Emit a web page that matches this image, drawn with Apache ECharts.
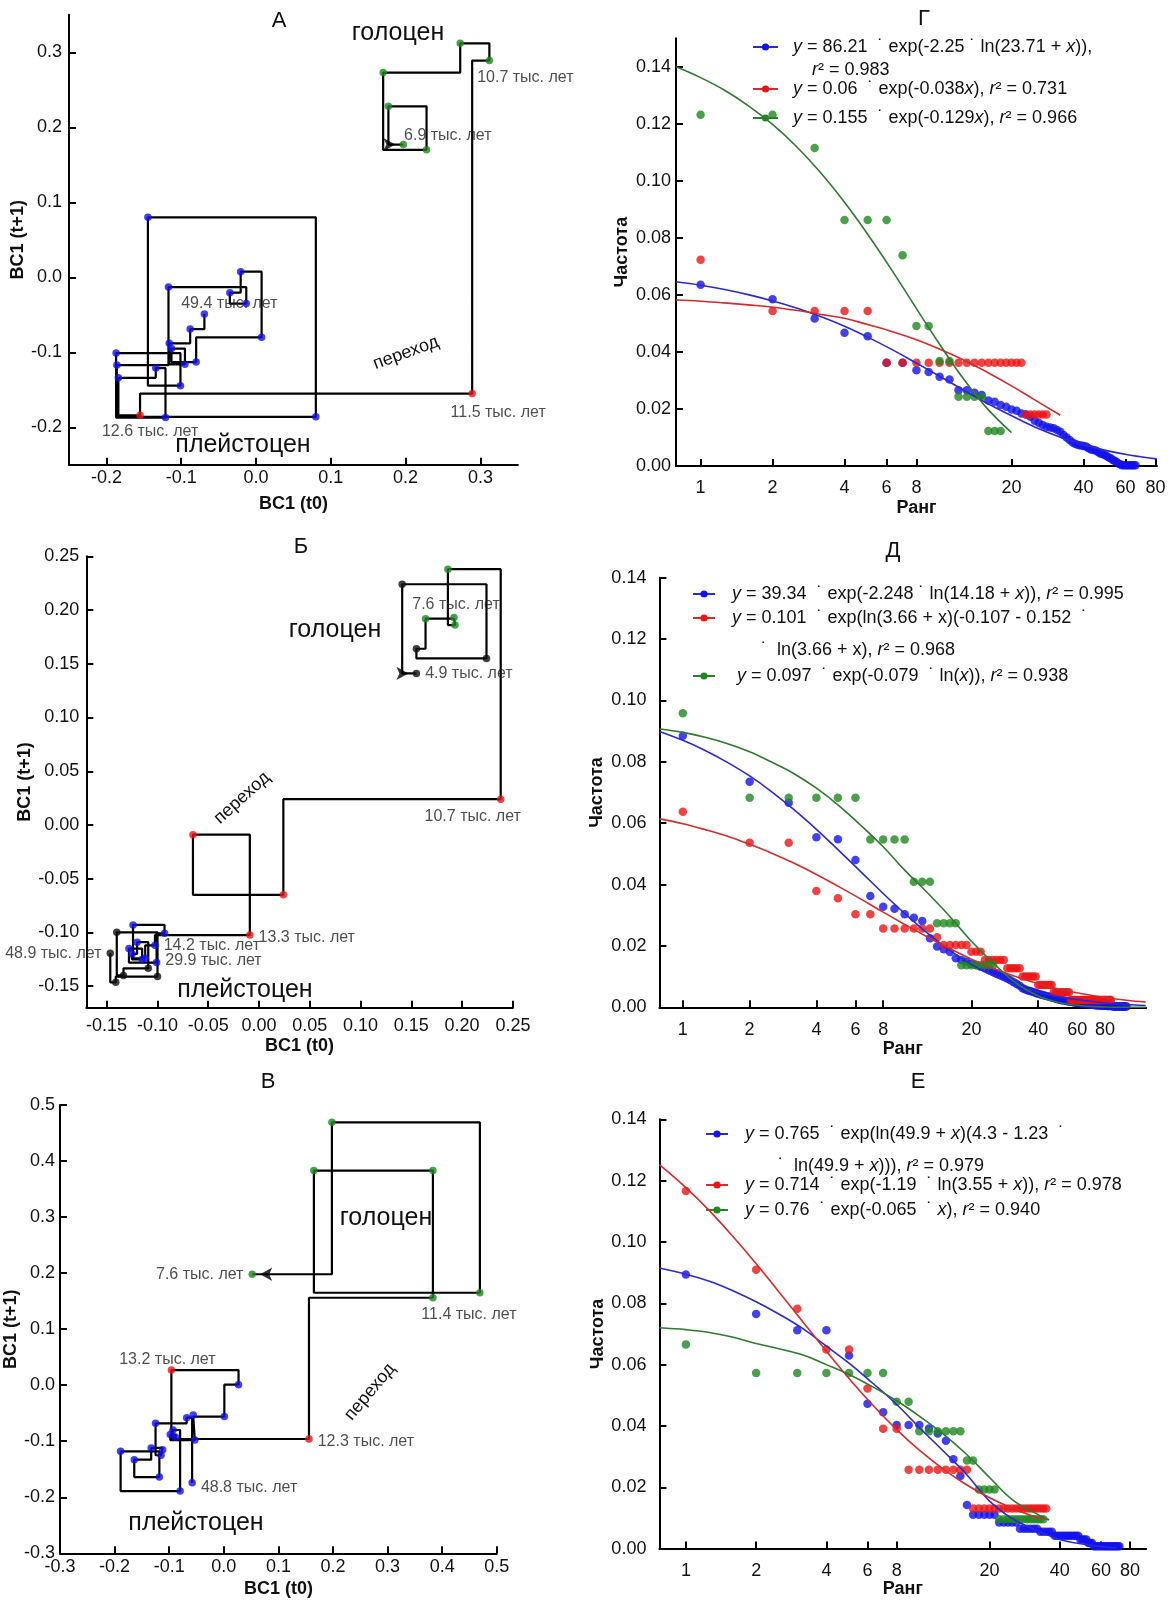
<!DOCTYPE html>
<html><head><meta charset="utf-8">
<script src="https://cdn.jsdelivr.net/npm/echarts@6/dist/echarts.min.js"></script>
<style>html,body{margin:0;padding:0;background:#fff}#c{width:1173px;height:1600px}</style>
</head><body><div id="c"></div>
<script>
// ===================== DATA =====================
// Return maps: BC1 time series (young -> old); points are (BC1(t0), BC1(t+1)) = (s[i], s[i+1])
const bc1A = [0.197, 0.177, 0.228, 0.170, 0.273, 0.312, 0.289, -0.155, -0.184, -0.134, -0.121, -0.187, -0.101, -0.1445, 0.080, -0.186, -0.117, -0.013, -0.035, -0.0205, 0.0075, -0.080, -0.113, -0.095, -0.116, -0.088, -0.069, -0.049];
const periodA = ['h','h','h','h','h','h','t','t','p','p','p','p','p','p','p','p','p','p','p','p','p','p','p','p','p','p','p'];
const labelsA = {0:'6.9 тыс. лет', 5:'10.7 тыс. лет', 6:'11.5 тыс. лет', 7:'12.6 тыс. лет', 26:'49.4 тыс. лет'};

const bc1B = [0.155, 0.141, 0.224, 0.155, 0.164, 0.192, 0.193, 0.186, 0.238, 0.024, -0.065, -0.009, -0.1024, -0.112, -0.124, -0.093, -0.1008, -0.128, -0.115, -0.125, -0.120, -0.109, -0.1334, -0.140, -0.0999, -0.141, -0.1464, -0.1194];
const periodB = ['k','k','k','k','h','h','h','h','t','t','t','t','p','p','p','p','p','p','p','p','p','k','k','k','k','k','k'];
const labelsB = {0:'4.9 тыс. лет', 5:'7.6 тыс. лет', 8:'10.7 тыс. лет', 11:'13.3 тыс. лет', 12:'14.2 тыс. лет', 16:'29.9 тыс. лет', 26:'48.9 тыс. лет'};

const bc1V = [0.052, 0.198, 0.469, 0.165, 0.383, 0.383, 0.156, -0.096, 0.027, 0.001, -0.056, -0.053, -0.098, -0.088, -0.093, -0.080, -0.189, -0.118, -0.164, -0.133, -0.112, -0.115, -0.125, -0.068, -0.058, -0.174];
const periodV = ['h','h','h','h','h','h','t','t','p','p','p','p','p','p','p','p','p','p','p','p','p','p','p','p','p'];
const labelsV = {0:'7.6 тыс. лет', 5:'11.4 тыс. лет', 6:'12.3 тыс. лет', 7:'13.2 тыс. лет', 24:'48.8 тыс. лет'};

const tickA = [-0.2, -0.1, 0, 0.1, 0.2, 0.3];
const tickB = [-0.15, -0.10, -0.05, 0, 0.05, 0.10, 0.15, 0.20, 0.25];
const tickV = [-0.3, -0.2, -0.1, 0, 0.1, 0.2, 0.3, 0.4, 0.5];
const rankTicks = [1, 2, 4, 6, 8, 20, 40, 60, 80];
const freqTicks = [0, 0.02, 0.04, 0.06, 0.08, 0.10, 0.12, 0.14];

// Rank-frequency (rank = index + 1)
const freqG_blue = [0.0636,0.0585,0.0517,0.0467,0.0455,0.0362,0.0362,0.0336,0.0330,0.0313,0.0303,0.0266,0.0266,0.0257,0.0249,0.0230,0.0225,0.0214,0.0208,0.0198,0.0194,0.0184,0.0181,0.0173,0.0159,0.0152,0.0144,0.0138,0.0135,0.0132,0.0126,0.0120,0.0109,0.0100,0.0091,0.0082,0.0077,0.0074,0.0072,0.0070,0.0068,0.0062,0.0058,0.0056,0.0054,0.0049,0.0044,0.0042,0.0039,0.0035,0.0030,0.0027,0.0021,0.0018,0.0014,0.0009,0.0006,0.0003,0.0003,0.0003,0.0003,0.0003,0.0003,0.0003,0.0003,0.0003];
const freqG_red = [0.0723,0.0544,0.0544,0.0544,0.0544,0.0362,0.0362,0.0362,0.0362,0.0362,0.0362,0.0362,0.0362,0.0362,0.0362,0.0362,0.0362,0.0362,0.0362,0.0362,0.0362,0.0362,0.0181,0.0181,0.0181,0.0181,0.0181,0.0181];
const freqG_green = [0.1232,0.1232,0.1115,0.0863,0.0863,0.0863,0.0739,0.0491,0.0491,0.0368,0.0368,0.0243,0.0243,0.0243,0.0243,0.0123,0.0123,0.0123];

const freqD_blue = [0.0885,0.0735,0.0667,0.0554,0.0548,0.0480,0.0363,0.0328,0.0321,0.0303,0.0292,0.0281,0.0225,0.0198,0.0189,0.0180,0.0160,0.0154,0.0149,0.0142,0.0138,0.0132,0.0127,0.0121,0.0116,0.0110,0.0105,0.0100,0.0094,0.0088,0.0082,0.0076,0.0070,0.0062,0.0058,0.0055,0.0052,0.0050,0.0047,0.0044,0.0042,0.0040,0.0038,0.0036,0.0034,0.0032,0.0030,0.0028,0.0026,0.0025,0.0023,0.0022,0.0021,0.0020,0.0019,0.0018,0.0017,0.0016,0.0015,0.0014,0.0013,0.0012,0.0012,0.0011,0.0011,0.0010,0.0010,0.0009,0.0009,0.0008,0.0008,0.0007,0.0007,0.0007,0.0006,0.0006,0.0006,0.0005,0.0005,0.0005,0.0005,0.0004,0.0004,0.0004,0.0004,0.0004,0.0003,0.0003,0.0003,0.0003,0.0003,0.0003,0.0003,0.0003,0.0003,0.0003,0.0003,0.0003,0.0003,0.0003];
const freqD_red = [0.0637,0.0536,0.0536,0.0379,0.0355,0.0303,0.0303,0.0257,0.0257,0.0257,0.0257,0.0257,0.0257,0.0228,0.0203,0.0203,0.0203,0.0203,0.0203,0.0181,0.0181,0.0181,0.0154,0.0154,0.0154,0.0154,0.0154,0.0154,0.0127,0.0127,0.0127,0.0127,0.0127,0.0100,0.0100,0.0100,0.0100,0.0100,0.0100,0.0073,0.0073,0.0073,0.0073,0.0073,0.0073,0.0073,0.0049,0.0049,0.0049,0.0049,0.0049,0.0049,0.0049,0.0049,0.0049,0.0024,0.0024,0.0024,0.0024,0.0024,0.0024,0.0024,0.0024,0.0024,0.0024,0.0024,0.0024,0.0024,0.0024,0.0024,0.0024,0.0024,0.0024,0.0024,0.0024,0.0024,0.0024,0.0024,0.0024,0.0024,0.0024,0.0024,0.0024,0.0024,0.0024];
const freqD_green = [0.0958,0.0683,0.0683,0.0683,0.0683,0.0683,0.0547,0.0547,0.0547,0.0547,0.0409,0.0409,0.0409,0.0274,0.0274,0.0274,0.0274,0.0137,0.0137,0.0137,0.0137,0.0137,0.0137,0.0137,0.0137];

const freqE_blue = [0.0894,0.0765,0.0712,0.0712,0.0630,0.0472,0.0445,0.0403,0.0403,0.0403,0.0392,0.0375,0.0352,0.0291,0.0237,0.0142,0.0110,0.0110,0.0110,0.0110,0.0110,0.0085,0.0085,0.0085,0.0085,0.0085,0.0065,0.0065,0.0065,0.0065,0.0065,0.0065,0.0055,0.0055,0.0055,0.0055,0.0055,0.0042,0.0042,0.0042,0.0042,0.0042,0.0042,0.0042,0.0042,0.0042,0.0042,0.0042,0.0030,0.0030,0.0030,0.0030,0.0018,0.0018,0.0018,0.0008,0.0008,0.0008,0.0008,0.0008,0.0008,0.0008,0.0008,0.0008,0.0008,0.0008,0.0008,0.0008,0.0008,0.0008,0.0008,0.0008];
const freqE_red = [0.1166,0.0909,0.0782,0.0649,0.0649,0.0522,0.0391,0.0391,0.0257,0.0257,0.0257,0.0257,0.0257,0.0257,0.0257,0.0257,0.0131,0.0131,0.0131,0.0131,0.0131,0.0131,0.0131,0.0131,0.0131,0.0131,0.0131,0.0131,0.0131,0.0131,0.0131,0.0131,0.0131,0.0131,0.0131];
const freqE_green = [0.0666,0.0573,0.0573,0.0573,0.0573,0.0573,0.0573,0.0479,0.0479,0.0383,0.0383,0.0383,0.0383,0.0383,0.0383,0.0287,0.0287,0.0193,0.0193,0.0193,0.0193,0.0096,0.0096,0.0096,0.0096,0.0096,0.0096,0.0096,0.0096,0.0096,0.0096,0.0096,0.0096,0.0096];

// Fitted curves (x = rank, y = frequency)
const curveG_blue_x = [0.79,1,1.26,1.58,2,2.5,3.16,4,5,6.3,8,10,12.6,15.8,20,25,31.6,40,50,63,81];
const curveG_blue_y = [0.0646,0.0634,0.0619,0.0601,0.0579,0.0555,0.0525,0.0490,0.0452,0.0409,0.0361,0.0315,0.0266,0.0220,0.0176,0.0137,0.0103,0.0075,0.0054,0.0038,0.0025];
const curveG_red_x = [0.79,1,1.26,1.58,2,2.5,3.16,4,5,6.3,8,10,12.6,15.8,20,25,32];
const curveG_red_y = [0.0582,0.0578,0.0572,0.0565,0.0557,0.0546,0.0532,0.0518,0.0496,0.0472,0.0443,0.0410,0.0372,0.0329,0.0281,0.0232,0.0178];
const curveG_green_x = [0.79,1,1.26,1.58,2,2.5,3.16,4,5,6.3,8,10,12.6,15.8,20];
const curveG_green_y = [0.1400,0.1362,0.1318,0.1264,0.1198,0.1123,0.1031,0.0925,0.0813,0.0688,0.0552,0.0427,0.0305,0.0202,0.0117];

const curveD_x = [0.785,1,1.26,1.58,2,2.5,3.16,4,5,6.3,8,10,12.6,15.8,20,25,31.6,40,50,63,80,100,122];
const curveD_blue_y = [0.0899,0.0870,0.0837,0.0799,0.0754,0.0704,0.0645,0.0580,0.0514,0.0444,0.0371,0.0306,0.0243,0.0188,0.0140,0.0103,0.0073,0.0050,0.0034,0.0023,0.0014,0.0009,0.0006];
const curveD_red_y = [0.0614,0.0598,0.0579,0.0558,0.0531,0.0503,0.0470,0.0433,0.0395,0.0354,0.0310,0.0270,0.0230,0.0193,0.0157,0.0127,0.0100,0.0077,0.0059,0.0044,0.0032,0.0023,0.0017];
const curveD_green_y = [0.0907,0.0896,0.0880,0.0860,0.0833,0.0800,0.0762,0.0714,0.0660,0.0595,0.0523,0.0447,0.0375,0.0300,0.0215,0.0145,0.0080,0.0037,0.0015,0.0005,0.0001,0.0000,0.0000];

const curveE_blue_x = [0.77,1,1.26,1.58,2,2.5,3.16,4,5,6.3,8,10,12.6,15.8,20,25,31.6,40,50,63,70];
const curveE_blue_y = [0.0915,0.0895,0.0872,0.0842,0.0805,0.0765,0.0718,0.0660,0.0605,0.0540,0.0470,0.0395,0.0320,0.0245,0.0155,0.0098,0.0060,0.0030,0.0015,0.0005,0.0003];
const curveE_rg_x = [0.77,1,1.26,1.58,2,2.5,3.16,4,5,6.3,8,10,12.6,15.8,20,25,31.6,36];
const curveE_red_y = [0.1252,0.1177,0.1102,0.1020,0.0929,0.0838,0.0741,0.0644,0.0555,0.0469,0.0388,0.0321,0.0261,0.0210,0.0166,0.0132,0.0103,0.0095];
const curveE_green_y = [0.0720,0.0714,0.0705,0.0690,0.0669,0.0652,0.0632,0.0600,0.0568,0.0528,0.0482,0.0432,0.0375,0.0310,0.0232,0.0160,0.0115,0.0093];

// ===================== STYLE / LAYOUT =====================
const FONT = '"Liberation Sans", Arial, Helvetica, sans-serif';
const PT = {p:'#1212ee', t:'#ee1414', h:'#1e8a1e', k:'#111111'};
const LN = {b:'#2a2ad0', r:'#d42c2c', g:'#2e7a2e'};
const labelPos = {
  0: {0:['right',[-8,-9]], 5:['bottom',[36,0]], 6:['bottom',[26,2]], 7:['bottom',[10,0]], 26:['top',[25,6]]},
  1: {0:['right',[0,0]], 5:['top',[2,4]], 8:['bottom',[-28,1]], 11:['right',[0,3]], 12:['right',[0,0]], 16:['right',[0,-2]], 26:['left',[0,0]]},
  2: {0:['left',[0,0]], 5:['bottom',[36,0]], 6:['right',[0,3]], 7:['top',[-4,6]], 24:['right',[0,5]]}
};
const grids = [
  {left:69, top:14.8, width:448.8, height:450},
  {left:86.3, top:556.3, width:426.6, height:451.4},
  {left:60, top:1105, width:436.8, height:448.3},
  {left:676, top:38.3, width:481, height:427.7},
  {left:659.4, top:577.7, width:486.8, height:429.6},
  {left:659.4, top:1119.3, width:486.8, height:429.3}
].map(g => Object.assign({outerBoundsMode:'none', containLabel:false}, g));

function fmt(v, d) { return (Math.abs(v) < 1e-9 ? 0 : v).toFixed(d); }
const axLine = {onZero:false, lineStyle:{color:'#000', width:2}};
const nameStyle = {fontWeight:'bold', fontSize:18, color:'#111', fontFamily:FONT};
function valAxis(gi, min, max, ticks, dec, margin, name, gap) {
  return {
    gridIndex: gi, type:'value', min, max,
    axisLine: axLine,
    axisTick: {inside:true, length:7, lineStyle:{color:'#000', width:2}, customValues: ticks},
    axisLabel: {customValues: ticks, formatter: v => fmt(v, dec), fontSize:18, color:'#111', fontFamily:FONT, margin},
    splitLine: {show:false},
    name, nameLocation:'middle', nameGap: gap, nameTextStyle: nameStyle
  };
}
function logAxis(gi, min, max, margin, gap) {
  return {
    gridIndex: gi, type:'log', logBase:10, min, max,
    axisLine: axLine,
    axisTick: {inside:true, length:7, lineStyle:{color:'#000', width:2}, customValues: rankTicks},
    axisLabel: {customValues: rankTicks, formatter: v => String(Math.round(v)), fontSize:18, color:'#111', fontFamily:FONT, margin},
    splitLine: {show:false}, minorTick:{show:false},
    name:'Ранг', nameLocation:'middle', nameGap: gap, nameTextStyle: nameStyle
  };
}

const xAxes = [
  valAxis(0,-0.25,0.35,tickA,1,4,'BC1 (t0)',30),
  valAxis(1,-0.17,0.25,tickB,2,9,'BC1 (t0)',29),
  valAxis(2,-0.3,0.5,tickV,1,5,'BC1 (t0)',27),
  logAxis(3,0.789,81.2,13,33),
  logAxis(4,0.784,122.7,14,28),
  logAxis(5,0.77,93.8,13,27)
];
const yAxes = [
  valAxis(0,-0.25,0.35,tickA,1,7,'BC1 (t+1)',37),
  valAxis(1,-0.17,0.25,tickB,2,7,'BC1 (t+1)',49),
  valAxis(2,-0.3,0.5,tickV,1,5,'BC1 (t+1)',34),
  valAxis(3,0,0.15,freqTicks,2,5,'Частота',45),
  valAxis(4,0,0.14,freqTicks,2,13,'Частота',53),
  valAxis(5,0,0.14,freqTicks,2,13,'Частота',51)
];

const series = [];
function addReturnMap(gi, s, period, labels) {
  const pts = s.slice(0, -1).map((v, i) => [v, s[i + 1]]);
  series.push({type:'line', xAxisIndex:gi, yAxisIndex:gi, data:pts, step:'end', symbol:'none',
    lineStyle:{color:'#000', width:2.2}, z:2, silent:true});
  series.push({type:'scatter', xAxisIndex:gi, yAxisIndex:gi, symbolSize:7.5, z:3, silent:true,
    data: pts.map((p, i) => {
      const item = {value:p, itemStyle:{color:PT[period[i]]}};
      if (labels[i]) {
        const lp = labelPos[gi][i];
        item.label = {show:true, formatter:labels[i], position:lp[0], offset:lp[1], fontSize:16, color:'#222', fontFamily:FONT};
      }
      return item;
    })});
  const dir = s[0] > s[1] ? 1 : -1;
  series.push({type:'scatter', xAxisIndex:gi, yAxisIndex:gi, data:[[s[0], s[1]]], symbol:'arrow',
    symbolSize:[10,12], symbolRotate: dir > 0 ? -90 : 90, symbolOffset:[-dir * 8, 0],
    itemStyle:{color:'#000'}, z:4, silent:true});
}
addReturnMap(0, bc1A, periodA, labelsA);
addReturnMap(1, bc1B, periodB, labelsB);
addReturnMap(2, bc1V, periodV, labelsV);

function addRank(gi, key, sets) {
  ['b','r','g'].forEach(c => {
    series.push({type:'scatter', xAxisIndex:gi, yAxisIndex:gi, symbolSize:8.5, z:3, silent:true,
      itemStyle:{color: c==='b'?PT.p : c==='r'?PT.t : PT.h},
      data: sets[c][0].map((v, i) => [i + 1, v])});
  });
  ['b','r','g'].forEach(c => {
    const cx = sets[c][1], cy = sets[c][2];
    series.push({type:'line', name:key + c, xAxisIndex:gi, yAxisIndex:gi, smooth:0.4,
      symbol:'circle', symbolSize:7, showSymbol:false, z:4, silent:true,
      lineStyle:{color:LN[c], width:1.6},
      itemStyle:{color: c==='b'?PT.p : c==='r'?PT.t : PT.h},
      data: cx.map((x, i) => [x, cy[i]])});
  });
}
addRank(3, 'G', {b:[freqG_blue, curveG_blue_x, curveG_blue_y], r:[freqG_red, curveG_red_x, curveG_red_y], g:[freqG_green, curveG_green_x, curveG_green_y]});
addRank(4, 'D', {b:[freqD_blue, curveD_x, curveD_blue_y], r:[freqD_red, curveD_x, curveD_red_y], g:[freqD_green, curveD_x, curveD_green_y]});
addRank(5, 'E', {b:[freqE_blue, curveE_blue_x, curveE_blue_y], r:[freqE_red, curveE_rg_x, curveE_red_y], g:[freqE_green, curveE_rg_x, curveE_green_y]});

const RICH = {
  i:{fontStyle:'italic', fontSize:18, fontFamily:FONT, color:'#111'},
  w10:{width:10, fontSize:18}, w12:{width:12, fontSize:18}
};
function leg(name, left, top, iw, text) {
  return {data:[name], left, top, orient:'horizontal', padding:0, itemGap:0, itemWidth:iw, itemHeight:9,
    selectedMode:false, formatter: () => text,
    textStyle:{fontSize:18, color:'#111', fontFamily:FONT, lineHeight:20, rich:RICH}};
}
const legends = [
  leg('Gb', 752, 37, 25, '{w10| }{i|y} = 86.21  ˙ exp(-2.25 ˙ ln(23.71 + {i|x})),'),
  leg('Gr', 752, 79, 25, '{w10| }{i|y} = 0.06  ˙ exp(-0.038{i|x}), {i|r}² = 0.731'),
  leg('Gg', 752, 108, 25, '{w10| }{i|y} = 0.155  ˙ exp(-0.129{i|x}), {i|r}² = 0.966'),
  leg('Db', 692, 584, 22, '{w12| }{i|y} = 39.34  ˙ exp(-2.248 ˙ ln(14.18 + {i|x})), {i|r}² = 0.995'),
  leg('Dr', 692, 608, 22, '{w12| }{i|y} = 0.101  ˙ exp(ln(3.66 + x)(-0.107 - 0.152  ˙'),
  leg('Dg', 692, 666, 22, '{w12| } {i|y} = 0.097  ˙ exp(-0.079  ˙ ln({i|x})), {i|r}² = 0.938'),
  leg('Eb', 705, 1124, 22, '{w12| }{i|y} = 0.765  ˙ exp(ln(49.9 + {i|x})(4.3 - 1.23  ˙'),
  leg('Er', 705, 1175, 22, '{w12| }{i|y} = 0.714  ˙ exp(-1.19  ˙ ln(3.55 + {i|x})), {i|r}² = 0.978'),
  leg('Eg', 705, 1200, 22, '{w12| }{i|y} = 0.76  ˙ exp(-0.065  ˙ {i|x}), {i|r}² = 0.940')
];

function txt(x, y, text, size, rot, align) {
  return {type:'text', x, y, rotation: (rot || 0) * Math.PI / 180, silent:true,
    style:{text, fill:'#111', font: size + 'px ' + FONT, fontSize:size, fontFamily:FONT,
      align: align || 'center', verticalAlign:'middle', textAlign: align || 'center', textVerticalAlign:'middle', rich:RICH}};
}
const graphics = [
  txt(279, 21, 'А', 22), txt(301, 547, 'Б', 22), txt(268, 1082, 'В', 22),
  txt(924, 19, 'Г', 22), txt(893, 551, 'Д', 22), txt(918, 1082, 'Е', 22),
  txt(398, 33, 'голоцен', 25), txt(243, 445, 'плейстоцен', 25), txt(406, 353, 'переход', 18, 20),
  txt(335, 630, 'голоцен', 25), txt(245, 990, 'плейстоцен', 25), txt(242, 798, 'переход', 18, 42),
  txt(386, 1218, 'голоцен', 25), txt(196, 1523, 'плейстоцен', 25), txt(370, 1392, 'переход', 18, 50),
  txt(812, 70, '{i|r}² = 0.983', 18, 0, 'left'),
  txt(761, 650, '˙  ln(3.66 + x), {i|r}² = 0.968', 18, 0, 'left'),
  txt(778, 1166, '˙  ln(49.9 + {i|x}))), {i|r}² = 0.979', 18, 0, 'left')
];

const chart = echarts.init(document.getElementById('c'), null, {renderer:'canvas'});
chart.setOption({
  animation:false, backgroundColor:'#fff',
  textStyle:{fontFamily:FONT},
  grid: grids, xAxis: xAxes, yAxis: yAxes,
  legend: legends, series, graphic: graphics
});
</script></body></html>
